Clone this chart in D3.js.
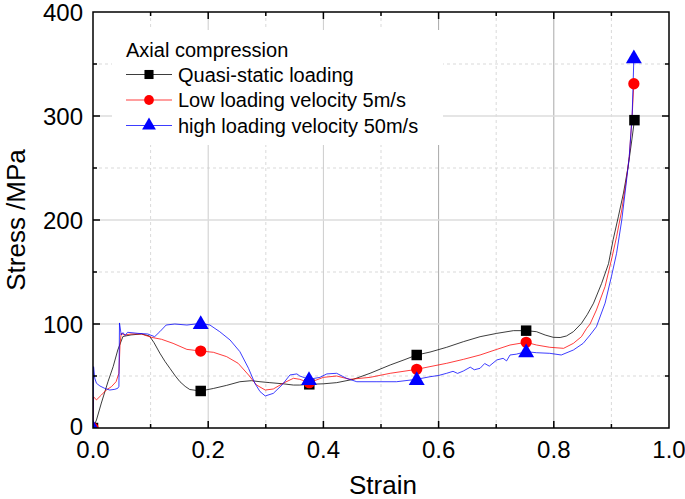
<!DOCTYPE html>
<html><head><meta charset="utf-8">
<script src="https://cdn.jsdelivr.net/npm/d3@7"></script>
<style>html,body{margin:0;padding:0;background:#fff;}svg{display:block;}</style>
</head><body>
<svg id="chart" width="685" height="499"></svg>
<script>
// ---- data ----
const xTicks = [0.0, 0.2, 0.4, 0.6, 0.8, 1.0];
const xTickLabels = ["0.0", "0.2", "0.4", "0.6", "0.8", "1.0"];
const yTicks = [0, 100, 200, 300, 400];
const yTickLabels = ["0", "100", "200", "300", "400"];
const legendTitle = "Axial compression";
const seriesNames = ["Quasi-static loading", "Low loading velocity 5m/s", "high loading velocity 50m/s"];

const quasiStatic = [
  [0,0],[0.006,7.7],[0.0145,24],[0.026,44.5],[0.035,59],[0.043,75],[0.052,88],[0.066,89.5],
  [0.084,90.4],[0.098,88.5],[0.106,82],[0.116,72],[0.125,64],[0.134,57],[0.143,50],[0.151,44.5],
  [0.16,40],[0.168,37],[0.187,35.6],[0.209,38],[0.232,41],[0.255,44.5],[0.275,45.5],[0.29,44.5],
  [0.307,43.6],[0.33,42.5],[0.348,41.3],[0.359,41.3],[0.3755,42],[0.4,42.5],[0.423,43.6],
  [0.452,46.8],[0.481,52.6],[0.516,60.6],[0.54,65.5],[0.562,70.2],[0.585,73],[0.614,77.6],
  [0.643,83],[0.672,87.8],[0.701,91],[0.73,93.6],[0.752,93.6],[0.77,92.6],[0.785,89.4],
  [0.799,87.2],[0.811,87],[0.822,88.5],[0.834,92.6],[0.848,100.6],[0.858,109],[0.869,120],
  [0.883,139],[0.895,158],[0.903,181],[0.912,203],[0.921,226],[0.929,251],[0.935,275],[0.94,296]
];
const lowVelocity = [
  [0,0],[0.001,30],[0.006,27],[0.0145,31.7],[0.023,36.5],[0.032,39.7],[0.04,44.5],[0.045,52.6],
  [0.047,81.4],[0.049,91],[0.055,89.4],[0.066,90.4],[0.084,90.4],[0.101,87.2],[0.119,85.3],
  [0.139,81.4],[0.163,75.6],[0.187,74],[0.209,72.8],[0.232,68.6],[0.252,62.2],[0.27,51],
  [0.284,41.3],[0.299,36.5],[0.313,37.5],[0.33,43],[0.348,47.8],[0.359,46.8],[0.3755,43.6],
  [0.4,48.7],[0.423,50],[0.446,46.8],[0.481,48.7],[0.516,52.6],[0.562,56.4],[0.585,59],
  [0.614,62.2],[0.643,66],[0.672,70.2],[0.701,75.6],[0.724,79.8],[0.752,82.4],[0.77,79.8],
  [0.793,77.6],[0.817,76.6],[0.834,81.4],[0.848,87.8],[0.857,95.8],[0.863,100],[0.874,113.5],
  [0.889,136],[0.9,161.5],[0.909,184],[0.918,209.6],[0.925,235],[0.931,261],[0.936,300],[0.939,331]
];
const highVelocity = [
  [0,0],[0.001,59],[0.003,48],[0.006,43],[0.012,40.4],[0.02,38.2],[0.029,36.5],[0.038,37.2],
  [0.043,38.2],[0.045,40],[0.046,101],[0.049,89.4],[0.052,91.7],[0.056,89],[0.06,92],[0.066,91.7],
  [0.078,91],[0.095,90.4],[0.107,87.8],[0.116,92.6],[0.127,99],[0.142,100],[0.163,99],[0.187,100.6],
  [0.203,99],[0.22,92.6],[0.238,84.6],[0.255,73.4],[0.27,57.4],[0.281,43],[0.29,35],[0.299,30.8],
  [0.313,33.3],[0.328,41.3],[0.342,51],[0.354,52],[0.359,50],[0.375,46.8],[0.394,48.7],[0.406,52],
  [0.423,52.6],[0.44,47.8],[0.458,44.5],[0.493,44.5],[0.527,44.5],[0.562,46.8],[0.585,49.3],
  [0.6,50.5],[0.614,52.6],[0.625,54.5],[0.633,52.5],[0.643,54.8],[0.655,58.5],[0.662,56],[0.672,57.4],
  [0.68,62],[0.688,59.5],[0.701,65.4],[0.712,67],[0.718,64.5],[0.724,70.2],[0.735,71],[0.752,73.4],
  [0.77,72.4],[0.793,71.8],[0.813,70.2],[0.834,75],[0.851,81.4],[0.863,89.4],[0.874,97.4],[0.889,120],
  [0.9,145.5],[0.909,168],[0.918,200],[0.925,232],[0.931,261],[0.936,300],[0.939,356]
];
const quasiMarkers = [[0,0],[0.187,35.6],[0.3755,42],[0.562,70.2],[0.752,93.6],[0.94,296]];
const lowMarkers = [[0,0],[0.187,74],[0.3755,43.6],[0.562,56.4],[0.752,82.4],[0.939,331]];
const highMarkers = [[0,0],[0.187,100.6],[0.375,46.8],[0.562,46.8],[0.752,73.4],[0.939,356]];

// ---- layout ----
const svg = d3.select("#chart");
const L = 93, R = 669, T = 12, B = 428;
const x = d3.scaleLinear().domain([0, 1]).range([L, R]);
const y = d3.scaleLinear().domain([0, 400]).range([B, T]);
const font = "'Liberation Sans', Arial, sans-serif";

svg.append("defs").append("clipPath").attr("id", "plotclip")
  .append("rect").attr("x", L).attr("y", T).attr("width", R - L).attr("height", B - T);

// grid
const g = svg.append("g");
const minorX = d3.range(1, 10, 2).map(d => d / 10);
const minorY = [50, 150, 250, 350];
g.selectAll(".mx").data(minorX).join("line")
  .attr("x1", d => x(d)).attr("x2", d => x(d)).attr("y1", T).attr("y2", B)
  .attr("stroke", "#cfcfcf").attr("stroke-width", 0.8).attr("stroke-dasharray", "3,3");
g.selectAll(".my").data(minorY).join("line")
  .attr("y1", d => y(d)).attr("y2", d => y(d)).attr("x1", L).attr("x2", R)
  .attr("stroke", "#cfcfcf").attr("stroke-width", 0.8).attr("stroke-dasharray", "3,3");
g.selectAll(".Mx").data([0.2, 0.4, 0.6, 0.8]).join("line")
  .attr("x1", d => x(d)).attr("x2", d => x(d)).attr("y1", T).attr("y2", B)
  .attr("stroke", (d) => d >= 0.6 ? "#a8a8a8" : "#cccccc").attr("stroke-width", 1);
g.selectAll(".My").data([100, 200, 300]).join("line")
  .attr("y1", d => y(d)).attr("y2", d => y(d)).attr("x1", L).attr("x2", R)
  .attr("stroke", "#dddddd").attr("stroke-width", 1.6);

// legend background
svg.append("rect").attr("x", 112).attr("y", 30).attr("width", 331).attr("height", 115).attr("fill", "#fff");

const plot = svg.append("g").attr("clip-path", "url(#plotclip)");

// curves
const line = d3.line().x(d => x(d[0])).y(d => y(d[1]));
const colors = ["#000000", "#ff0000", "#0000ff"];
const seriesData = [quasiStatic, lowVelocity, highVelocity];
seriesData.forEach((s, i) => {
  plot.append("path").datum(s).attr("d", line).attr("fill", "none")
    .attr("stroke", colors[i]).attr("stroke-width", 0.9).attr("stroke-opacity", 0.85)
    .attr("stroke-linejoin", "round");
});

// markers
const markerSyms = [d3.symbolSquare, d3.symbolCircle, d3.symbolTriangle];
const markerSizes = [110, 100, 110];
const markerSets = [quasiMarkers, lowMarkers, highMarkers];
markerSets.forEach((m, i) => {
  plot.selectAll(null).data(m).join("path")
    .attr("d", d3.symbol().type(markerSyms[i]).size(markerSizes[i]))
    .attr("transform", d => `translate(${x(d[0])},${y(d[1]) + (i === 2 ? 1 : 0)})`)
    .attr("fill", colors[i]);
});

// frame
svg.append("rect").attr("x", L).attr("y", T).attr("width", R - L).attr("height", B - T)
  .attr("fill", "none").attr("stroke", "#000").attr("stroke-width", 1.5);

// ticks (inward, all sides)
const xMajor = xTicks.slice(1, -1), xMinor = minorX;
const yMajor = yTicks.slice(1, -1), yMinor = minorY;
const tk = svg.append("g").attr("stroke", "#000").attr("stroke-width", 1.5);
xMajor.forEach(d => {
  tk.append("line").attr("x1", x(d)).attr("x2", x(d)).attr("y1", B).attr("y2", B - 7);
  tk.append("line").attr("x1", x(d)).attr("x2", x(d)).attr("y1", T).attr("y2", T + 7);
});
xMinor.forEach(d => {
  tk.append("line").attr("x1", x(d)).attr("x2", x(d)).attr("y1", B).attr("y2", B - 4);
  tk.append("line").attr("x1", x(d)).attr("x2", x(d)).attr("y1", T).attr("y2", T + 4);
});
yMajor.forEach(d => {
  tk.append("line").attr("y1", y(d)).attr("y2", y(d)).attr("x1", L).attr("x2", L + 7);
  tk.append("line").attr("y1", y(d)).attr("y2", y(d)).attr("x1", R).attr("x2", R - 7);
});
yMinor.forEach(d => {
  tk.append("line").attr("y1", y(d)).attr("y2", y(d)).attr("x1", L).attr("x2", L + 4);
  tk.append("line").attr("y1", y(d)).attr("y2", y(d)).attr("x1", R).attr("x2", R - 4);
});

// tick labels
svg.selectAll(".xl").data(xTicks).join("text")
  .attr("x", d => x(d)).attr("y", 458).attr("text-anchor", "middle")
  .attr("font-family", font).attr("font-size", 24).attr("fill", "#000")
  .text((d, i) => xTickLabels[i]);
svg.selectAll(".yl").data(yTicks).join("text")
  .attr("x", 83).attr("y", d => y(d) - (d === 0 ? 2 : 0)).attr("dy", "0.36em").attr("text-anchor", "end")
  .attr("font-family", font).attr("font-size", 24).attr("fill", "#000")
  .text((d, i) => yTickLabels[i]);

// axis titles
svg.append("text").attr("x", 383).attr("y", 494).attr("text-anchor", "middle")
  .attr("font-family", font).attr("font-size", 26).text("Strain");
svg.append("text").attr("transform", "translate(25,220) rotate(-90)").attr("text-anchor", "middle")
  .attr("font-family", font).attr("font-size", 26).text("Stress /MPa");

// legend
svg.append("text").attr("x", 126).attr("y", 57).attr("font-family", font).attr("font-size", 20)
  .text(legendTitle);
const rowY = [74.5, 100, 125.5];
seriesNames.forEach((name, i) => {
  svg.append("line").attr("x1", 126).attr("x2", 172).attr("y1", rowY[i]).attr("y2", rowY[i])
    .attr("stroke", colors[i]).attr("stroke-width", 0.9).attr("stroke-opacity", 0.85);
  svg.append("path").attr("d", d3.symbol().type(markerSyms[i]).size(markerSizes[i] * 0.75))
    .attr("transform", `translate(149,${rowY[i]})`).attr("fill", colors[i]);
  svg.append("text").attr("x", 178).attr("y", rowY[i]).attr("dy", "0.36em")
    .attr("font-family", font).attr("font-size", 20).text(name);
});
</script>
</body></html>
